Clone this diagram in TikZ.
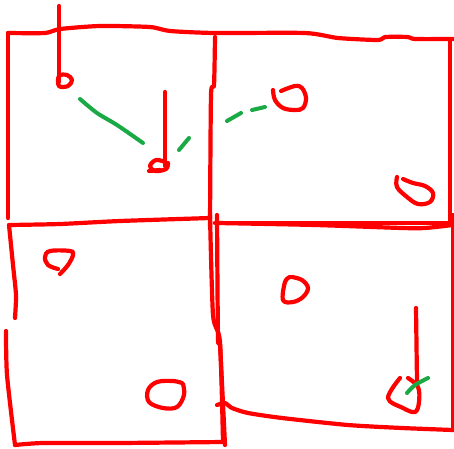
\documentclass[tikz,border=0pt]{standalone}
\begin{document}
\begin{tikzpicture}[x=1pt,y=-1pt,
  ink/.style={draw={rgb,255:red,255;green,0;blue,0},line width=4.2pt,line cap=round,line join=round},
  gink/.style={draw={rgb,255:red,25;green,170;blue,70},line width=4pt,line cap=round,line join=round}]
\useasboundingbox[fill=white] (0,0) rectangle (454,448);
% grid lines
\draw[ink] plot[smooth,tension=0.4] coordinates {(8,33) (45,33) (60,29) (100,26) (150,27) (170,31) (215,33) (305,33) (338,38) (378,40) (385,37) (408,37) (415,39) (453,39)};
\draw[ink] (8,33) -- (8,218);
\draw[ink] plot[smooth,tension=0.4] coordinates {(215,37) (214,85) (211,95) (210,227)};
\draw[ink] (450,40) -- (450,223);
\draw[ink] (215,223) -- (450,223);
% bottom-left square
\draw[ink] plot[smooth,tension=0.4] coordinates {(9,225) (60,224) (120,221) (210,218)};
\draw[ink] plot[smooth,tension=0.4] coordinates {(9,225) (13,265) (16,295) (15,318)};
\draw[ink] plot[smooth,tension=0.4] coordinates {(6,331) (7,375) (15,445)};
\draw[ink] plot[smooth,tension=0.4] coordinates {(15,445) (43,443) (117,443) (223,442)};
\draw[ink] plot[smooth,tension=0.4] coordinates {(210,215) (213,315) (220,342) (223,442)};
% bottom-right square
\draw[ink] plot[smooth,tension=0.4] coordinates {(218,223) (315,225) (402,228) (425,228) (453,225)};
\draw[ink] plot[smooth,tension=0.4] coordinates {(217,215) (218,338) (220,345) (225,445)};
\draw[ink] plot[smooth,tension=0.4] coordinates {(217,405) (225,403) (232,408) (248,413) (282,418) (348,425) (402,428) (453,430)};
\draw[ink] (453,215) -- (453,430);
% lollipop 1
\draw[ink] (59,6) -- (59,82);
\draw[ink] plot[smooth cycle,tension=0.6] coordinates {(59,76) (67,75) (72,80) (68,86) (59,86)};
% lollipop 2
\draw[ink] (165,92) -- (165,166);
\draw[ink] plot[smooth,tension=0.6] coordinates {(165,162) (156,160) (150,166) (155,171) (166,169) (168,163)};
\draw[ink] (149,171) -- (160,170);
% green links
\draw[gink] plot[smooth,tension=0.5] coordinates {(80,99) (97,113) (117,125) (143,143)};
\draw[gink] (179,150) -- (189,138);
\draw[gink] (227,121) -- (241,113);
\draw[gink] (252,110) -- (265,107);
% blobs
\draw[ink] plot[smooth,tension=0.6] coordinates {(273,90) (275,100) (283,108) (295,110) (303,108) (306,98) (302,88) (295,86) (281,91)};
\draw[ink] plot[smooth,tension=0.6] coordinates {(397,177) (397,187) (407,197) (418,204) (430,202) (433,193) (425,186) (413,183) (403,179)};
\draw[ink] plot[smooth,tension=0.6] coordinates {(60,274) (68,265) (73,255) (70,251) (50,251) (45,257) (48,265) (58,269)};
\draw[ink] plot[smooth,tension=0.6] coordinates {(182,383) (173,381) (157,382) (148,390) (149,402) (163,408) (177,407) (184,395) (183,384)};
\draw[ink] plot[smooth,tension=0.6] coordinates {(290,277) (285,282) (283,300) (293,302) (303,297) (308,288) (302,280) (292,277)};
% lollipop 3
\draw[ink] (416,308) -- (417,382);
\draw[ink] plot[smooth,tension=0.6] coordinates {(400,378) (388,398) (403,408) (415,412) (419,402) (418,387) (408,378)};
\draw[gink] plot[smooth,tension=0.5] coordinates {(407,393) (415,385) (428,378)};
\end{tikzpicture}
\end{document}
